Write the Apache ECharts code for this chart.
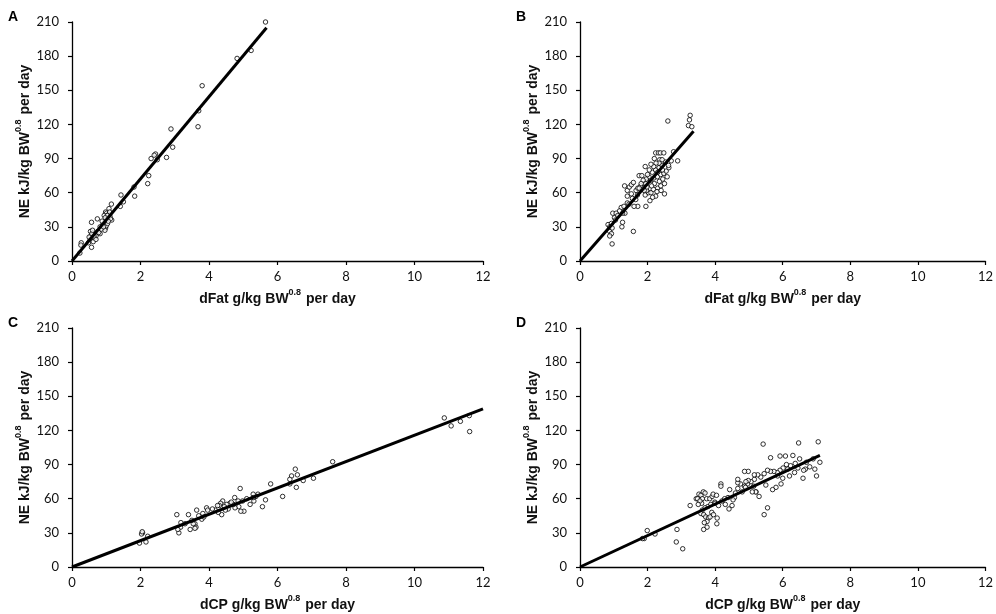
<!DOCTYPE html>
<html>
<head>
<meta charset="utf-8">
<script src="https://cdn.jsdelivr.net/npm/echarts@6/dist/echarts.min.js"></script>
<style>
  html, body { margin: 0; padding: 0; background: #fff; }
  #chart { width: 996px; height: 614px; }
</style>
</head>
<body>
<div id="chart"></div>
<script>
// Axis ticks
const xTicks = { min: 0, max: 12, interval: 2 };
const yTicks = { min: 0, max: 210, interval: 30 };

// Panel labels and axis titles
const panelLabels = ['A', 'B', 'C', 'D'];
const xTitles = ['dFat', 'dFat', 'dCP', 'dCP'];

// A: NE vs digestible fat (pigs, set 1)
const pointsA = [[5.65,210],[5.23,185],[4.82,178],[3.80,154],[3.68,118],[3.70,132],[2.89,116],[2.94,100],[2.76,91],[2.44,94],[2.40,93],[2.31,90],[2.49,89],[2.24,75],[2.21,68],[1.83,57],[1.81,65],[1.43,58],[1.50,52],[1.41,48],[1.15,50],[1.08,46],[0.98,43],[1.01,42],[1.07,41],[0.94,40],[1.11,39],[1.16,36],[1.00,36],[0.98,29],[0.96,27],[0.74,37],[0.82,30],[0.82,24],[0.57,34],[0.54,26],[0.62,25],[0.67,23],[0.60,20],[0.53,18.5],[0.57,12],[0.48,16],[0.27,16],[0.26,14],[0.23,7],[0.70,22],[0.75,26],[0.65,20],[0.90,32],[0.95,34],[1.05,38],[1.10,43],[0.85,28],[0.62,17],[0.55,22],[0.70,19],[1.00,31],[1.12,37],[0.92,30],[1.04,33],[0.78,25],[0.88,35],[0.64,22],[1.03,40],[0.97,38],[1.06,35],[0.58,24],[0.50,21],[0.60,27]];
const lineA = [[0,0],[5.68,205]];

// B: NE vs digestible fat (pigs, set 2)
const pointsB = [[3.26,128],[3.24,124],[3.21,119],[3.31,118],[2.60,123],[2.89,88],[2.77,96],[2.24,95],[2.32,95],[2.38,95],[2.48,95],[2.36,89],[1.93,83],[1.75,75],[1.83,75],[1.32,66],[1.40,62],[1.46,65],[1.52,67],[1.58,69],[1.66,62],[1.71,64],[1.40,57],[1.52,59],[1.65,54],[1.71,48],[1.60,48],[1.40,51],[1.45,50],[1.22,47],[1.17,44],[1.33,42],[1.26,42],[0.97,42],[1.02,38],[1.07,42],[0.83,32],[0.88,30],[0.93,33],[0.88,26],[0.93,24],[0.88,22],[0.95,15],[1.26,34],[1.24,30],[1.58,26],[1.95,48],[2.07,53],[1.93,58],[2.03,60],[2.10,60],[2.24,57],[2.50,59],[1.97,62],[2.17,63],[2.30,64],[2.39,66],[1.80,66],[1.90,68],[1.99,70],[2.09,71],[2.19,73],[2.29,74],[2.39,76],[2.48,77],[2.55,79],[2.63,82],[2.14,78],[2.24,80],[2.34,82],[2.43,84],[2.53,87],[2.34,86],[2.43,89],[2.04,74],[1.96,72],[1.87,71],[1.81,68],[1.95,68],[2.20,68],[2.35,70],[2.45,72],[2.62,84],[2.70,88],[2.12,66],[2.28,61],[2.40,62],[2.15,56],[1.85,63],[1.70,58],[1.55,55],[1.30,48],[1.12,40],[1.05,36],[0.95,29],[2.00,76],[2.05,80],[2.25,86],[2.18,83],[2.44,80],[2.58,74],[2.30,78],[1.98,65],[2.50,68],[1.75,64],[2.10,85],[2.20,90],[1.90,62]];
const lineB = [[0,0],[3.36,114]];

// C: NE vs digestible crude protein (set 1)
const pointsC = [[10.87,131],[11.07,124],[11.34,128],[11.60,133],[11.61,119],[7.61,92.5],[6.52,86],[6.58,81],[6.41,80],[6.36,77],[6.36,73],[6.75,76],[7.05,78],[6.55,70],[6.15,62],[5.80,73],[5.65,59],[5.56,53],[5.43,64],[5.37,62],[5.29,64],[5.31,58],[5.29,61],[5.20,55],[4.91,69],[4.75,61],[4.85,58],[4.98,58],[5.02,49],[4.93,49],[4.87,53],[4.76,52],[4.71,55],[4.61,56],[4.52,55],[4.56,51],[4.48,50],[4.40,58],[4.34,56],[4.37,46],[4.30,54],[4.25,54],[4.27,48],[4.18,50],[3.93,52],[3.96,50],[3.82,47],[3.79,42],[3.64,50],[3.59,38],[3.62,35],[3.59,34],[3.54,38],[3.45,33],[3.40,46],[3.18,39],[3.17,35],[3.12,30],[3.09,33],[3.06,46],[2.21,27],[2.16,22],[2.06,30],[2.03,29],[1.97,21],[2.05,31],[3.30,38],[3.70,45],[4.10,51],[4.65,57],[5.10,60],[3.85,44],[4.45,53],[3.50,41]];
const lineC = [[0,0],[12,139]];

// D: NE vs digestible crude protein (set 2)
const pointsD = [[6.47,109],[5.42,108],[5.92,97.5],[6.08,97.5],[5.64,96],[6.67,86],[6.62,85],[6.37,91],[6.23,89],[6.11,90],[6.01,87],[5.92,85],[5.84,83],[5.74,84],[5.64,84],[5.55,85],[5.45,82],[5.35,79],[5.26,81],[5.16,77],[5.06,75],[4.96,73],[4.87,71],[4.75,73],[4.67,74],[4.98,84],[4.98,76],[1.99,32],[1.90,25],[1.85,25],[2.22,29],[2.87,33],[2.85,22],[3.04,16],[3.26,54],[3.44,60],[3.48,60],[3.52,64],[3.58,63],[3.65,66],[3.70,65],[3.62,60],[3.75,60],[3.84,60],[3.91,62],[3.94,64],[4.04,63],[3.99,57],[3.87,55],[3.78,53],[3.70,52],[3.62,50],[3.58,47],[3.66,46],[3.72,44],[3.80,43],[3.85,44],[3.76,40],[3.68,39],[3.76,35],[3.66,33],[4.06,43],[4.05,38],[4.17,73],[4.17,71],[4.43,68],[4.67,77],[4.87,84],[4.91,75],[5.16,81],[5.14,71],[5.21,66],[4.67,69],[4.57,61],[4.53,59],[4.41,51],[4.50,54],[4.38,61],[4.28,60],[7.05,110],[7.10,92],[7.00,80],[6.90,95],[6.80,88],[6.95,86],[6.50,95],[6.30,98],[6.20,80],[6.00,78],[5.80,70],[5.70,68],[5.50,72],[5.45,46],[5.55,52],[5.30,62],[5.20,66],[5.10,66],[4.90,70],[4.80,66],[4.60,65],[4.30,55],[4.20,58],[4.00,56],[4.10,54],[3.90,48],[3.60,56],[3.55,58],[6.60,78],[6.70,92],[6.35,83],[6.45,87],[5.95,73],[6.15,86],[5.85,80],[3.50,55],[3.95,46]];
const lineD = [[0,0],[7.1,98]];

const panelPoints = [pointsA, pointsB, pointsC, pointsD];
const panelLines = [lineA, lineB, lineC, lineD];

const chart = echarts.init(document.getElementById('chart'), null, { renderer: 'canvas' });

const gridBoxes = [
  { left: 72, top: 22, width: 411, height: 239 },
  { left: 580, top: 22, width: 411, height: 239 },
  { left: 72, top: 328, width: 411, height: 239 },
  { left: 580, top: 328, width: 411, height: 239 }
];

const tickFont = { fontFamily: 'Lato', fontSize: 13, color: '#111' };
// Title text with a raised "0.8" exponent
const nameRich = {
  t: { fontFamily: 'Liberation Sans', fontWeight: 'bold', fontSize: 14, color: '#111', lineHeight: 18, verticalAlign: 'bottom' },
  s: { fontFamily: 'Liberation Sans', fontWeight: 'bold', fontSize: 9, color: '#111', lineHeight: 10, verticalAlign: 'top', padding: [0, 1, 0, 0] }
};

const xAxes = [], yAxes = [], series = [], graphics = [];
gridBoxes.forEach((g, i) => {
  xAxes.push({
    gridIndex: i, type: 'value', min: xTicks.min, max: xTicks.max, interval: xTicks.interval,
    axisLine: { onZero: false, lineStyle: { color: '#000', width: 1.3 } },
    axisTick: { show: true, inside: false, length: 4, lineStyle: { color: '#000', width: 1.2 } },
    axisLabel: Object.assign({ margin: 9 }, tickFont),
    splitLine: { show: false },
    name: '{t|' + xTitles[i] + ' g/kg BW}{s|0.8}{t| per day}',
    nameLocation: 'middle', nameGap: 27,
    nameTextStyle: { rich: nameRich }
  });
  yAxes.push({
    gridIndex: i, type: 'value', min: yTicks.min, max: yTicks.max, interval: yTicks.interval,
    axisLine: { onZero: false, lineStyle: { color: '#000', width: 1.3 } },
    axisTick: { show: true, inside: false, length: 4, lineStyle: { color: '#000', width: 1.2 } },
    axisLabel: Object.assign({ margin: 13 }, tickFont),
    splitLine: { show: false },
    name: '{t|NE kJ/kg BW}{s|0.8}{t| per day}',
    nameLocation: 'middle', nameGap: 37, nameRotate: 90,
    nameTextStyle: { rich: nameRich }
  });
  series.push({
    type: 'scatter', xAxisIndex: i, yAxisIndex: i, data: panelPoints[i],
    symbol: 'circle', symbolSize: 4.5,
    itemStyle: { color: '#fff', borderColor: '#000', borderWidth: 1 },
    z: 2, silent: true
  });
  series.push({
    type: 'line', xAxisIndex: i, yAxisIndex: i, data: panelLines[i],
    showSymbol: false, lineStyle: { color: '#000', width: 3 },
    z: 3, silent: true
  });
  graphics.push({
    type: 'text', left: g.left - 64, top: g.top - 12,
    style: { text: panelLabels[i], font: 'bold 14px "Liberation Sans"', fill: '#000' }
  });
});

chart.setOption({
  animation: false,
  backgroundColor: '#fff',
  grid: gridBoxes.map(g => Object.assign({ containLabel: false }, g)),
  xAxis: xAxes,
  yAxis: yAxes,
  series: series,
  graphic: graphics
});
</script>
</body>
</html>
